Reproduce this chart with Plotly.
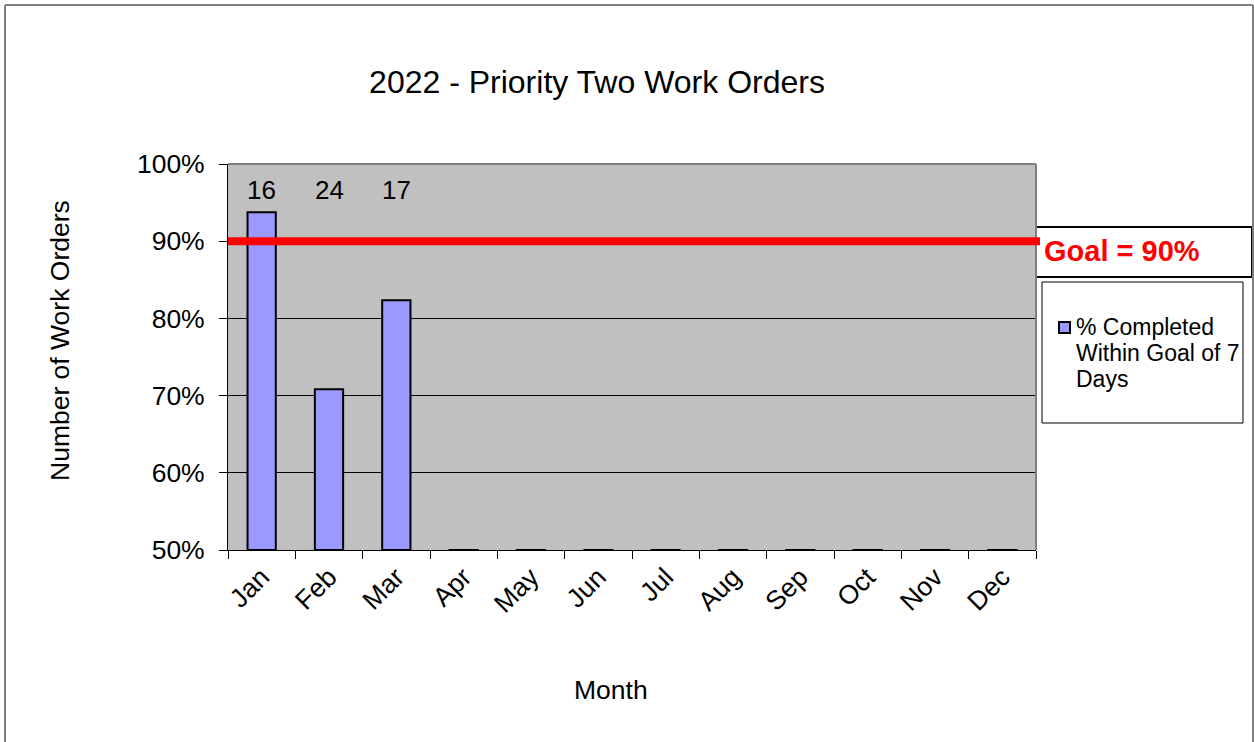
import plotly.graph_objects as go

months = ["Jan", "Feb", "Mar", "Apr", "May", "Jun", "Jul", "Aug", "Sep", "Oct", "Nov", "Dec"]
pct_within_goal = [0.9375, 0.7083, 0.8235, 0, 0, 0, 0, 0, 0, 0, 0, 0]
work_order_counts = [16, 24, 17]
goal = 0.90
y_ticks = [0.5, 0.6, 0.7, 0.8, 0.9, 1.0]
y_tick_labels = ["50%", "60%", "70%", "80%", "90%", "100%"]
series_name_lines = ["% Completed", "Within Goal of 7", "Days"]
bar_color = "#9999FF"

W, H = 1254, 742
L, R, T, B = 228, 1036, 164, 550
pw, ph = R - L, B - T
FONT = "Liberation Sans, Arial"


def px(x):
    return (x - L) / pw


def py(y):
    return (B - y) / ph


base = 0.5
fig = go.Figure()
fig.add_trace(go.Bar(
    x=months,
    y=[v - base for v in pct_within_goal],
    base=base,
    name=" ".join(series_name_lines),
    marker=dict(color=bar_color, line=dict(color="black", width=2)),
    hoverinfo="skip",
    showlegend=False,
))

annotations = []
for m, c in zip(months, work_order_counts):
    annotations.append(dict(x=m, y=0.966, xref="x", yref="y", text=str(c), showarrow=False,
                            font=dict(size=26, color="black", family=FONT)))

annotations.append(dict(x=px(1042), y=py(251), xref="paper", yref="paper", text="<b>Goal = 90%</b>",
                        showarrow=False, xanchor="left", yanchor="middle",
                        font=dict(size=29, color="red", family=FONT)))

# axis titles
annotations.append(dict(x=px(611), y=py(690), xref="paper", yref="paper", text="Month",
                        showarrow=False, xanchor="center", yanchor="middle",
                        font=dict(size=26.5, color="black", family=FONT)))
annotations.append(dict(x=px(60), y=py(341), xref="paper", yref="paper", text="Number of Work Orders",
                        showarrow=False, xanchor="center", yanchor="middle", textangle=-90,
                        font=dict(size=26.5, color="black", family=FONT)))

# legend entry text
for i, line in enumerate(series_name_lines):
    annotations.append(dict(x=px(1074), y=py(327 + 26 * i), xref="paper", yref="paper", text=line,
                            showarrow=False, xanchor="left", yanchor="middle",
                            font=dict(size=23, color="black", family=FONT)))

shapes = [
    # outer page border
    dict(type="line", xref="paper", yref="paper", x0=px(5), x1=px(1253), y0=py(5), y1=py(5),
         line=dict(color="#808080", width=2)),
    dict(type="line", xref="paper", yref="paper", x0=px(5), x1=px(5), y0=py(5), y1=py(760),
         line=dict(color="#808080", width=2)),
    dict(type="line", xref="paper", yref="paper", x0=px(1253), x1=px(1253), y0=py(5), y1=py(760),
         line=dict(color="#808080", width=2)),
    # plot area top/right border
    dict(type="line", xref="paper", yref="paper", x0=0, x1=1, y0=1, y1=1, line=dict(color="#808080", width=2)),
    dict(type="line", xref="paper", yref="paper", x0=1, x1=1, y0=0, y1=1, line=dict(color="#808080", width=2)),
    # goal line
    dict(type="line", xref="paper", yref="y", x0=0, x1=px(1040), y0=goal, y1=goal,
         line=dict(color="red", width=8)),
    # goal box
    dict(type="rect", xref="paper", yref="paper", x0=px(1036), x1=px(1252), y0=py(277), y1=py(227),
         line=dict(color="black", width=2), fillcolor="white", layer="below"),
    # legend box
    dict(type="rect", xref="paper", yref="paper", x0=px(1042), x1=px(1243), y0=py(423), y1=py(282),
         line=dict(color="black", width=1), fillcolor="white", layer="below"),
    # legend symbol
    dict(type="rect", xref="paper", yref="paper", x0=px(1059), x1=px(1070), y0=py(333), y1=py(322),
         line=dict(color="black", width=2), fillcolor=bar_color),
]

fig.update_layout(
    width=W, height=H,
    margin=dict(l=L, r=W - R, t=T, b=H - B, pad=0),
    paper_bgcolor="white",
    plot_bgcolor="#C0C0C0",
    font=dict(family=FONT, size=26, color="black"),
    title=dict(text="2022 - Priority Two Work Orders", xref="container", x=597 / W, xanchor="center",
               yref="container", y=1 - 82 / H, yanchor="middle", font=dict(size=32)),
    bargap=0.58,
    showlegend=False,
    annotations=annotations,
    shapes=shapes,
    xaxis=dict(
        tickangle=-45, tickfont=dict(size=26.5),
        showline=True, linecolor="black", linewidth=1,
        ticks="outside", tickson="boundaries", ticklen=8, tickcolor="black",
        showgrid=False,
    ),
    yaxis=dict(
        range=[0.5, 1.0], tickvals=y_ticks, ticktext=y_tick_labels, tickfont=dict(size=26.5),
        showline=True, linecolor="black", linewidth=1,
        ticks="outside", ticklen=8, tickcolor="black", ticklabelstandoff=9,
        showgrid=True, gridcolor="black", gridwidth=1, zeroline=False,
    ),
)

fig.write_html("out.html", config={"displayModeBar": False},
               post_script="document.body.style.margin='0';")
